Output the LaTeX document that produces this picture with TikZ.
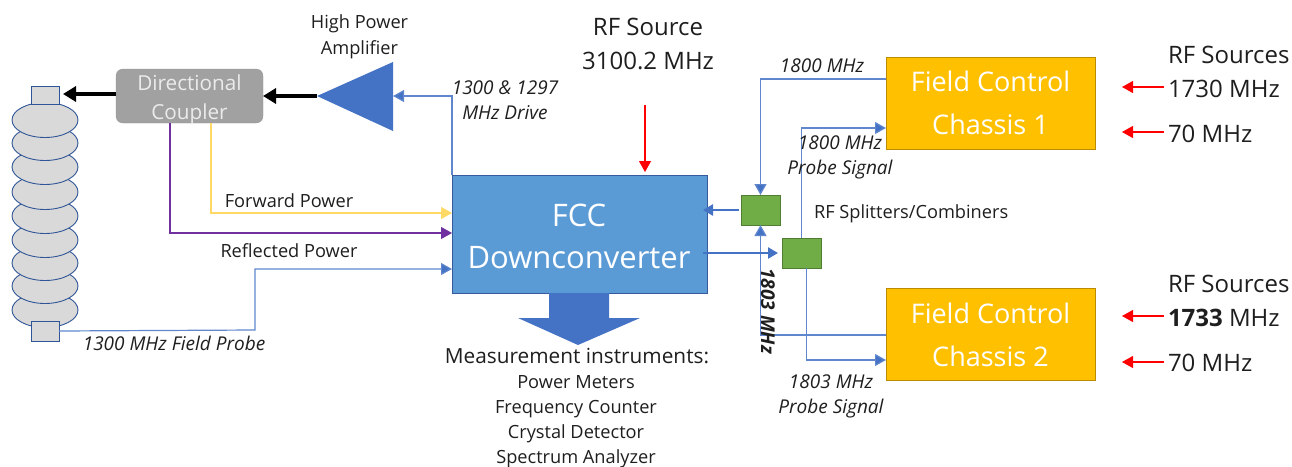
\documentclass[tikz,border=0pt]{standalone}
\usepackage{fontspec}
\setmainfont{Open Sans}
\usetikzlibrary{arrows.meta,calc}
\definecolor{wire}{HTML}{4472C4}
\definecolor{fccblue}{HTML}{5B9BD5}
\definecolor{gold}{HTML}{FFC000}
\definecolor{goldedge}{HTML}{BC8C00}
\definecolor{greenbox}{HTML}{70AD47}
\definecolor{greenedge}{HTML}{507E32}
\definecolor{cellfill}{HTML}{D9D9D9}
\definecolor{celledge}{HTML}{2F5597}
\definecolor{txt}{HTML}{1E1E1E}
\definecolor{fwd}{HTML}{FFD966}
\definecolor{refl}{HTML}{7030A0}
\newcommand{\fs}[2]{\fontsize{#1}{#2}\selectfont}
\tikzset{
  x=1pt,y=-1pt,
  txtnode/.style={inner sep=0pt,outer sep=0pt,text=txt,align=center},
  small/.style={txtnode,font=\fs{18.2}{26}},
  ital/.style={txtnode,font=\fs{19}{25}\itshape},
  big/.style={txtnode,font=\fs{24}{34}},
  cell/.style={draw=celledge,fill=cellfill,line width=0.9pt},
  wireline/.style={draw=wire!85,line width=1.2pt},
  wirearrow/.style={wireline,-{Triangle[length=11pt,width=12pt,fill=wire]}},
  feedarrow/.style={draw=#1,line width=1.2pt,-{Triangle[length=11pt,width=12pt,fill=#1]}},
  heavy/.style={draw=wire,line width=2.4pt,-{Triangle[length=10pt,width=11pt]}},
  blackarrow/.style={draw=black,line width=3.6pt,-{Triangle[length=13pt,width=15pt]}},
  redarrow/.style={draw=red,line width=1.1pt,-{Triangle[length=11pt,width=12pt]}},
  chassis/.style={draw=goldedge,fill=gold,line width=0.8pt,minimum width=209pt,minimum height=92pt,inner sep=0pt,outer sep=0pt},
  whitetext/.style={inner sep=0pt,outer sep=0pt,text=white,align=center},
  greenblock/.style={draw=greenedge,fill=greenbox,line width=0.8pt,minimum width=39pt,minimum height=30pt,inner sep=0pt,outer sep=0pt},
}
\begin{document}
\begin{tikzpicture}
\useasboundingbox (0,0) rectangle (1292,466);
% cavity cells
\foreach \yy in {310,286,263,240,216,192,167,143,120}{
  \draw[cell] (45,\yy) ellipse [x radius=33,y radius=17.5];
}
\node[cell,minimum width=28pt,minimum height=18pt,inner sep=0pt,outer sep=0pt] (top) at (45,95) {};
\node[cell,minimum width=28pt,minimum height=20pt,inner sep=0pt,outer sep=0pt] (bot) at (45,331) {};
% coupler
\node[draw=black!40,fill=black!37,rounded corners=7pt,minimum width=147pt,minimum height=54pt,inner sep=0pt,outer sep=0pt] (dc) at (189.5,96) {};
\node[whitetext,text=white!92!black,font=\fs{20.7}{29}] (dctext) at (189.5,99.5) {Directional\\Coupler};
% amplifier
\coordinate (hpatip) at (317,96);
\coordinate (hpain) at (393,96);
\fill[wire] (hpatip) -- (393,62) -- (393,131) -- cycle;
% FCC
\node[draw=wire!80!black,fill=fccblue,line width=0.8pt,minimum width=255pt,minimum height=118pt,inner sep=0pt,outer sep=0pt] (fcc) at (579.5,234) {};
\node[whitetext,font=\fs{31}{42}] (fcctext) at (579,236) {FCC\\Downconverter};
% chassis
\node[chassis] (fc1) at (990.5,103) {};
\node[chassis] (fc2) at (990.5,334) {};
\node[whitetext,font=\fs{27}{43}] (fc1text) at (990.5,103) {Field Control\\Chassis 1};
\node[whitetext,font=\fs{27}{43}] (fc2text) at (990.5,335) {Field Control\\Chassis 2};
% green blocks
\node[greenblock] (g1) at (760.5,210) {};
\node[greenblock] (g2) at (801.5,253) {};
% block arrow
\fill[wire] (549,293) -- (609,293) -- (609,318) -- (640,318) -- (578,345) -- (518,318) -- (549,318) -- cycle;
% heavy arrows
\draw[blackarrow,shorten >=4pt] (dc.west |- 0,94) -- (top.east |- 0,94);
\draw[blackarrow] (hpatip) -- (dc.east);
% wires
\draw[wirearrow] (fcc.north west) |- (hpain);
\draw[feedarrow=fwd] ([xshift=95pt]dc.south west) |- ([yshift=-38pt]fcc.north west);
\draw[feedarrow=refl] ([xshift=54pt]dc.south west) |- ([yshift=-58pt]fcc.north west);
\draw[wirearrow] (bot.east) -- (255,330) -- (255,269) -- ([yshift=-94pt]fcc.north west);
\draw[wirearrow] (fc1.west |- 0,79) -| (g1.north);
\draw[wirearrow] (g2.north) |- ([yshift=21pt]fc1.south west);
\draw[wirearrow] (fc2.west |- 0,335) -| (g1.south);
\draw[wirearrow] ([xshift=5pt]g2.south) |- ([yshift=-26pt]fc2.west);
\draw[heavy,shorten <=2pt,shorten >=-4pt] (g1.west) -- (fcc.east |- g1.west);
\draw[heavy,shorten <=-4pt,shorten >=4pt] (fcc.east |- g2.west) -- (g2.west);
% red arrows
\coordinate (r1) at (1164,87);
\coordinate (r2) at (1164,132);
\coordinate (r3) at (1164,316);
\coordinate (r4) at (1164,362);
\coordinate (rfin) at (645,105);
\draw[redarrow] (r1) -- ([xshift=27pt]fc1.east |- r1);
\draw[redarrow] (r2) -- ([xshift=27pt]fc1.east |- r2);
\draw[redarrow] (r3) -- ([xshift=27pt]fc2.east |- r3);
\draw[redarrow] (r4) -- ([xshift=27pt]fc2.east |- r4);
\draw[redarrow] (rfin) -- ([yshift=3pt]fcc.north -| rfin);
% text
\node[small] (hpa) at (359.5,36.5) {High Power\\Amplifier};
\node[ital] (drv) at (505,100.5) {1300 \& 1297\\MHz Drive};
\node[big] (src) at (648,43.5) {RF Source\\3100.2 MHz};
\node[ital] at (822,66) {1800 MHz};
\node[ital] at (840,157) {1800 MHz\\Probe Signal};
\node[small,anchor=west] at (814,214) {RF Splitters/Combiners};
\node[small] at (289,201) {Forward Power};
\node[small] at (289,251) {Reflected Power};
\node[ital] at (174,343) {1300 MHz Field Probe};
\node[ital,font=\fs{19}{25}\itshape\bfseries,rotate=-90] at (768,311) {1803 MHz};
\node[ital] at (831,396) {1803 MHz\\Probe Signal};
\node[txtnode,font=\fs{20.8}{25}] at (577,356) {Measurement instruments:};
\node[small,anchor=base] at (576,388) {Power Meters};
\node[small,anchor=base] at (576,413) {Frequency Counter};
\node[small,anchor=base] at (576,438) {Crystal Detector};
\node[small,anchor=base] at (576,463) {Spectrum Analyzer};
\node[big,anchor=west] at (1168,55) {RF Sources};
\node[big,anchor=west] at (1168,89) {1730 MHz};
\node[big,anchor=west] at (1168,134) {70 MHz};
\node[big,anchor=west] at (1168,284) {RF Sources};
\node[big,anchor=west] at (1168,318) {\textbf{1733} MHz};
\node[big,anchor=west] at (1168,363) {70 MHz};
\end{tikzpicture}
\end{document}
